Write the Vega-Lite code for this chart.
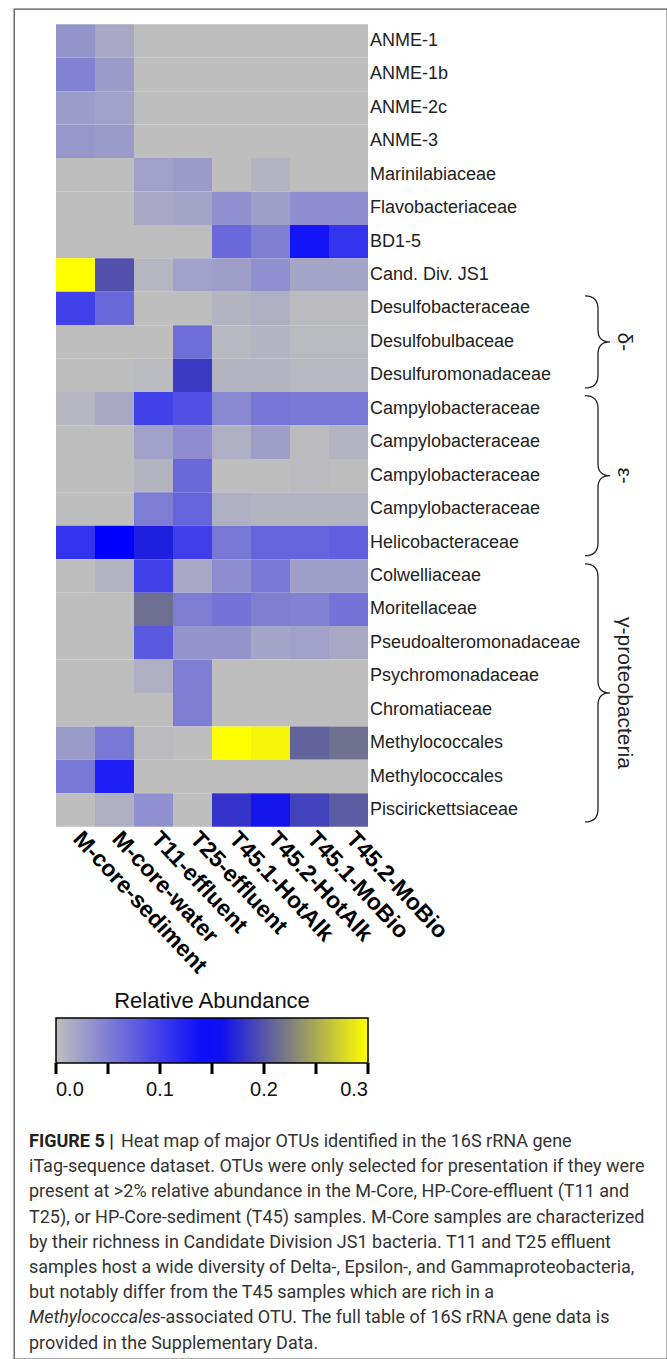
{
  "$schema": "https://vega.github.io/schema/vega-lite/v6.json",
  "width": 653,
  "height": 1350,
  "autosize": {"type": "none"},
  "padding": {"left": 14, "top": 9, "right": 0, "bottom": 0},
  "background": "white",
  "config": {
    "view": {"stroke": "#555555", "strokeWidth": 1.3},
    "legend": {"gradientHorizontalMaxLength": 400}
  },
  "datasets": {
    "cells": [
      {"otu":"ANME-1","label":"ANME-1","sample":"M-core-sediment","v":0.032},
      {"otu":"ANME-1","label":"ANME-1","sample":"M-core-water","v":0.017},
      {"otu":"ANME-1","label":"ANME-1","sample":"T11-effluent","v":0},
      {"otu":"ANME-1","label":"ANME-1","sample":"T25-effluent","v":0},
      {"otu":"ANME-1","label":"ANME-1","sample":"T45.1-HotAlk","v":0},
      {"otu":"ANME-1","label":"ANME-1","sample":"T45.2-HotAlk","v":0},
      {"otu":"ANME-1","label":"ANME-1","sample":"T45.1-MoBio","v":0},
      {"otu":"ANME-1","label":"ANME-1","sample":"T45.2-MoBio","v":0},
      {"otu":"ANME-1b","label":"ANME-1b","sample":"M-core-sediment","v":0.047},
      {"otu":"ANME-1b","label":"ANME-1b","sample":"M-core-water","v":0.028},
      {"otu":"ANME-1b","label":"ANME-1b","sample":"T11-effluent","v":0},
      {"otu":"ANME-1b","label":"ANME-1b","sample":"T25-effluent","v":0},
      {"otu":"ANME-1b","label":"ANME-1b","sample":"T45.1-HotAlk","v":0},
      {"otu":"ANME-1b","label":"ANME-1b","sample":"T45.2-HotAlk","v":0},
      {"otu":"ANME-1b","label":"ANME-1b","sample":"T45.1-MoBio","v":0},
      {"otu":"ANME-1b","label":"ANME-1b","sample":"T45.2-MoBio","v":0},
      {"otu":"ANME-2c","label":"ANME-2c","sample":"M-core-sediment","v":0.027},
      {"otu":"ANME-2c","label":"ANME-2c","sample":"M-core-water","v":0.024},
      {"otu":"ANME-2c","label":"ANME-2c","sample":"T11-effluent","v":0},
      {"otu":"ANME-2c","label":"ANME-2c","sample":"T25-effluent","v":0},
      {"otu":"ANME-2c","label":"ANME-2c","sample":"T45.1-HotAlk","v":0},
      {"otu":"ANME-2c","label":"ANME-2c","sample":"T45.2-HotAlk","v":0},
      {"otu":"ANME-2c","label":"ANME-2c","sample":"T45.1-MoBio","v":0},
      {"otu":"ANME-2c","label":"ANME-2c","sample":"T45.2-MoBio","v":0},
      {"otu":"ANME-3","label":"ANME-3","sample":"M-core-sediment","v":0.031},
      {"otu":"ANME-3","label":"ANME-3","sample":"M-core-water","v":0.028},
      {"otu":"ANME-3","label":"ANME-3","sample":"T11-effluent","v":0},
      {"otu":"ANME-3","label":"ANME-3","sample":"T25-effluent","v":0},
      {"otu":"ANME-3","label":"ANME-3","sample":"T45.1-HotAlk","v":0},
      {"otu":"ANME-3","label":"ANME-3","sample":"T45.2-HotAlk","v":0},
      {"otu":"ANME-3","label":"ANME-3","sample":"T45.1-MoBio","v":0},
      {"otu":"ANME-3","label":"ANME-3","sample":"T45.2-MoBio","v":0},
      {"otu":"Marinilabiaceae","label":"Marinilabiaceae","sample":"M-core-sediment","v":0},
      {"otu":"Marinilabiaceae","label":"Marinilabiaceae","sample":"M-core-water","v":0},
      {"otu":"Marinilabiaceae","label":"Marinilabiaceae","sample":"T11-effluent","v":0.024},
      {"otu":"Marinilabiaceae","label":"Marinilabiaceae","sample":"T25-effluent","v":0.028},
      {"otu":"Marinilabiaceae","label":"Marinilabiaceae","sample":"T45.1-HotAlk","v":0},
      {"otu":"Marinilabiaceae","label":"Marinilabiaceae","sample":"T45.2-HotAlk","v":0.008},
      {"otu":"Marinilabiaceae","label":"Marinilabiaceae","sample":"T45.1-MoBio","v":0},
      {"otu":"Marinilabiaceae","label":"Marinilabiaceae","sample":"T45.2-MoBio","v":0},
      {"otu":"Flavobacteriaceae","label":"Flavobacteriaceae","sample":"M-core-sediment","v":0},
      {"otu":"Flavobacteriaceae","label":"Flavobacteriaceae","sample":"M-core-water","v":0},
      {"otu":"Flavobacteriaceae","label":"Flavobacteriaceae","sample":"T11-effluent","v":0.017},
      {"otu":"Flavobacteriaceae","label":"Flavobacteriaceae","sample":"T25-effluent","v":0.020},
      {"otu":"Flavobacteriaceae","label":"Flavobacteriaceae","sample":"T45.1-HotAlk","v":0.036},
      {"otu":"Flavobacteriaceae","label":"Flavobacteriaceae","sample":"T45.2-HotAlk","v":0.025},
      {"otu":"Flavobacteriaceae","label":"Flavobacteriaceae","sample":"T45.1-MoBio","v":0.039},
      {"otu":"Flavobacteriaceae","label":"Flavobacteriaceae","sample":"T45.2-MoBio","v":0.039},
      {"otu":"BD1-5","label":"BD1-5","sample":"M-core-sediment","v":0},
      {"otu":"BD1-5","label":"BD1-5","sample":"M-core-water","v":0},
      {"otu":"BD1-5","label":"BD1-5","sample":"T11-effluent","v":0},
      {"otu":"BD1-5","label":"BD1-5","sample":"T25-effluent","v":0},
      {"otu":"BD1-5","label":"BD1-5","sample":"T45.1-HotAlk","v":0.067},
      {"otu":"BD1-5","label":"BD1-5","sample":"T45.2-HotAlk","v":0.049},
      {"otu":"BD1-5","label":"BD1-5","sample":"T45.1-MoBio","v":0.134},
      {"otu":"BD1-5","label":"BD1-5","sample":"T45.2-MoBio","v":0.110},
      {"otu":"Cand. Div. JS1","label":"Cand. Div. JS1","sample":"M-core-sediment","v":0.300},
      {"otu":"Cand. Div. JS1","label":"Cand. Div. JS1","sample":"M-core-water","v":0.198},
      {"otu":"Cand. Div. JS1","label":"Cand. Div. JS1","sample":"T11-effluent","v":0.006},
      {"otu":"Cand. Div. JS1","label":"Cand. Div. JS1","sample":"T25-effluent","v":0.024},
      {"otu":"Cand. Div. JS1","label":"Cand. Div. JS1","sample":"T45.1-HotAlk","v":0.025},
      {"otu":"Cand. Div. JS1","label":"Cand. Div. JS1","sample":"T45.2-HotAlk","v":0.036},
      {"otu":"Cand. Div. JS1","label":"Cand. Div. JS1","sample":"T45.1-MoBio","v":0.020},
      {"otu":"Cand. Div. JS1","label":"Cand. Div. JS1","sample":"T45.2-MoBio","v":0.020},
      {"otu":"Desulfobacteraceae","label":"Desulfobacteraceae","sample":"M-core-sediment","v":0.099},
      {"otu":"Desulfobacteraceae","label":"Desulfobacteraceae","sample":"M-core-water","v":0.067},
      {"otu":"Desulfobacteraceae","label":"Desulfobacteraceae","sample":"T11-effluent","v":0},
      {"otu":"Desulfobacteraceae","label":"Desulfobacteraceae","sample":"T25-effluent","v":0},
      {"otu":"Desulfobacteraceae","label":"Desulfobacteraceae","sample":"T45.1-HotAlk","v":0.008},
      {"otu":"Desulfobacteraceae","label":"Desulfobacteraceae","sample":"T45.2-HotAlk","v":0.012},
      {"otu":"Desulfobacteraceae","label":"Desulfobacteraceae","sample":"T45.1-MoBio","v":0.002},
      {"otu":"Desulfobacteraceae","label":"Desulfobacteraceae","sample":"T45.2-MoBio","v":0.002},
      {"otu":"Desulfobulbaceae","label":"Desulfobulbaceae","sample":"M-core-sediment","v":0},
      {"otu":"Desulfobulbaceae","label":"Desulfobulbaceae","sample":"M-core-water","v":0},
      {"otu":"Desulfobulbaceae","label":"Desulfobulbaceae","sample":"T11-effluent","v":0},
      {"otu":"Desulfobulbaceae","label":"Desulfobulbaceae","sample":"T25-effluent","v":0.063},
      {"otu":"Desulfobulbaceae","label":"Desulfobulbaceae","sample":"T45.1-HotAlk","v":0.005},
      {"otu":"Desulfobulbaceae","label":"Desulfobulbaceae","sample":"T45.2-HotAlk","v":0.009},
      {"otu":"Desulfobulbaceae","label":"Desulfobulbaceae","sample":"T45.1-MoBio","v":0.004},
      {"otu":"Desulfobulbaceae","label":"Desulfobulbaceae","sample":"T45.2-MoBio","v":0.004},
      {"otu":"Desulfuromonadaceae","label":"Desulfuromonadaceae","sample":"M-core-sediment","v":0},
      {"otu":"Desulfuromonadaceae","label":"Desulfuromonadaceae","sample":"M-core-water","v":0},
      {"otu":"Desulfuromonadaceae","label":"Desulfuromonadaceae","sample":"T11-effluent","v":0.004},
      {"otu":"Desulfuromonadaceae","label":"Desulfuromonadaceae","sample":"T25-effluent","v":0.184},
      {"otu":"Desulfuromonadaceae","label":"Desulfuromonadaceae","sample":"T45.1-HotAlk","v":0.008},
      {"otu":"Desulfuromonadaceae","label":"Desulfuromonadaceae","sample":"T45.2-HotAlk","v":0.009},
      {"otu":"Desulfuromonadaceae","label":"Desulfuromonadaceae","sample":"T45.1-MoBio","v":0.005},
      {"otu":"Desulfuromonadaceae","label":"Desulfuromonadaceae","sample":"T45.2-MoBio","v":0.005},
      {"otu":"Campylobacteraceae #1","label":"Campylobacteraceae","sample":"M-core-sediment","v":0.006},
      {"otu":"Campylobacteraceae #1","label":"Campylobacteraceae","sample":"M-core-water","v":0.017},
      {"otu":"Campylobacteraceae #1","label":"Campylobacteraceae","sample":"T11-effluent","v":0.099},
      {"otu":"Campylobacteraceae #1","label":"Campylobacteraceae","sample":"T25-effluent","v":0.087},
      {"otu":"Campylobacteraceae #1","label":"Campylobacteraceae","sample":"T45.1-HotAlk","v":0.043},
      {"otu":"Campylobacteraceae #1","label":"Campylobacteraceae","sample":"T45.2-HotAlk","v":0.057},
      {"otu":"Campylobacteraceae #1","label":"Campylobacteraceae","sample":"T45.1-MoBio","v":0.055},
      {"otu":"Campylobacteraceae #1","label":"Campylobacteraceae","sample":"T45.2-MoBio","v":0.055},
      {"otu":"Campylobacteraceae #2","label":"Campylobacteraceae","sample":"M-core-sediment","v":0},
      {"otu":"Campylobacteraceae #2","label":"Campylobacteraceae","sample":"M-core-water","v":0},
      {"otu":"Campylobacteraceae #2","label":"Campylobacteraceae","sample":"T11-effluent","v":0.024},
      {"otu":"Campylobacteraceae #2","label":"Campylobacteraceae","sample":"T25-effluent","v":0.039},
      {"otu":"Campylobacteraceae #2","label":"Campylobacteraceae","sample":"T45.1-HotAlk","v":0.012},
      {"otu":"Campylobacteraceae #2","label":"Campylobacteraceae","sample":"T45.2-HotAlk","v":0.025},
      {"otu":"Campylobacteraceae #2","label":"Campylobacteraceae","sample":"T45.1-MoBio","v":0.003},
      {"otu":"Campylobacteraceae #2","label":"Campylobacteraceae","sample":"T45.2-MoBio","v":0.008},
      {"otu":"Campylobacteraceae #3","label":"Campylobacteraceae","sample":"M-core-sediment","v":0},
      {"otu":"Campylobacteraceae #3","label":"Campylobacteraceae","sample":"M-core-water","v":0},
      {"otu":"Campylobacteraceae #3","label":"Campylobacteraceae","sample":"T11-effluent","v":0.008},
      {"otu":"Campylobacteraceae #3","label":"Campylobacteraceae","sample":"T25-effluent","v":0.067},
      {"otu":"Campylobacteraceae #3","label":"Campylobacteraceae","sample":"T45.1-HotAlk","v":0},
      {"otu":"Campylobacteraceae #3","label":"Campylobacteraceae","sample":"T45.2-HotAlk","v":0},
      {"otu":"Campylobacteraceae #3","label":"Campylobacteraceae","sample":"T45.1-MoBio","v":0.002},
      {"otu":"Campylobacteraceae #3","label":"Campylobacteraceae","sample":"T45.2-MoBio","v":0},
      {"otu":"Campylobacteraceae #4","label":"Campylobacteraceae","sample":"M-core-sediment","v":0},
      {"otu":"Campylobacteraceae #4","label":"Campylobacteraceae","sample":"M-core-water","v":0},
      {"otu":"Campylobacteraceae #4","label":"Campylobacteraceae","sample":"T11-effluent","v":0.051},
      {"otu":"Campylobacteraceae #4","label":"Campylobacteraceae","sample":"T25-effluent","v":0.071},
      {"otu":"Campylobacteraceae #4","label":"Campylobacteraceae","sample":"T45.1-HotAlk","v":0.012},
      {"otu":"Campylobacteraceae #4","label":"Campylobacteraceae","sample":"T45.2-HotAlk","v":0.009},
      {"otu":"Campylobacteraceae #4","label":"Campylobacteraceae","sample":"T45.1-MoBio","v":0.009},
      {"otu":"Campylobacteraceae #4","label":"Campylobacteraceae","sample":"T45.2-MoBio","v":0.009},
      {"otu":"Helicobacteraceae","label":"Helicobacteraceae","sample":"M-core-sediment","v":0.110},
      {"otu":"Helicobacteraceae","label":"Helicobacteraceae","sample":"M-core-water","v":0.150},
      {"otu":"Helicobacteraceae","label":"Helicobacteraceae","sample":"T11-effluent","v":0.168},
      {"otu":"Helicobacteraceae","label":"Helicobacteraceae","sample":"T25-effluent","v":0.102},
      {"otu":"Helicobacteraceae","label":"Helicobacteraceae","sample":"T45.1-HotAlk","v":0.055},
      {"otu":"Helicobacteraceae","label":"Helicobacteraceae","sample":"T45.2-HotAlk","v":0.071},
      {"otu":"Helicobacteraceae","label":"Helicobacteraceae","sample":"T45.1-MoBio","v":0.071},
      {"otu":"Helicobacteraceae","label":"Helicobacteraceae","sample":"T45.2-MoBio","v":0.075},
      {"otu":"Colwelliaceae","label":"Colwelliaceae","sample":"M-core-sediment","v":0},
      {"otu":"Colwelliaceae","label":"Colwelliaceae","sample":"M-core-water","v":0.008},
      {"otu":"Colwelliaceae","label":"Colwelliaceae","sample":"T11-effluent","v":0.099},
      {"otu":"Colwelliaceae","label":"Colwelliaceae","sample":"T25-effluent","v":0.017},
      {"otu":"Colwelliaceae","label":"Colwelliaceae","sample":"T45.1-HotAlk","v":0.039},
      {"otu":"Colwelliaceae","label":"Colwelliaceae","sample":"T45.2-HotAlk","v":0.055},
      {"otu":"Colwelliaceae","label":"Colwelliaceae","sample":"T45.1-MoBio","v":0.025},
      {"otu":"Colwelliaceae","label":"Colwelliaceae","sample":"T45.2-MoBio","v":0.025},
      {"otu":"Moritellaceae","label":"Moritellaceae","sample":"M-core-sediment","v":0},
      {"otu":"Moritellaceae","label":"Moritellaceae","sample":"M-core-water","v":0},
      {"otu":"Moritellaceae","label":"Moritellaceae","sample":"T11-effluent","v":0.215},
      {"otu":"Moritellaceae","label":"Moritellaceae","sample":"T25-effluent","v":0.051},
      {"otu":"Moritellaceae","label":"Moritellaceae","sample":"T45.1-HotAlk","v":0.059},
      {"otu":"Moritellaceae","label":"Moritellaceae","sample":"T45.2-HotAlk","v":0.049},
      {"otu":"Moritellaceae","label":"Moritellaceae","sample":"T45.1-MoBio","v":0.047},
      {"otu":"Moritellaceae","label":"Moritellaceae","sample":"T45.2-MoBio","v":0.059},
      {"otu":"Pseudoalteromonadaceae","label":"Pseudoalteromonadaceae","sample":"M-core-sediment","v":0},
      {"otu":"Pseudoalteromonadaceae","label":"Pseudoalteromonadaceae","sample":"M-core-water","v":0},
      {"otu":"Pseudoalteromonadaceae","label":"Pseudoalteromonadaceae","sample":"T11-effluent","v":0.079},
      {"otu":"Pseudoalteromonadaceae","label":"Pseudoalteromonadaceae","sample":"T25-effluent","v":0.032},
      {"otu":"Pseudoalteromonadaceae","label":"Pseudoalteromonadaceae","sample":"T45.1-HotAlk","v":0.032},
      {"otu":"Pseudoalteromonadaceae","label":"Pseudoalteromonadaceae","sample":"T45.2-HotAlk","v":0.020},
      {"otu":"Pseudoalteromonadaceae","label":"Pseudoalteromonadaceae","sample":"T45.1-MoBio","v":0.024},
      {"otu":"Pseudoalteromonadaceae","label":"Pseudoalteromonadaceae","sample":"T45.2-MoBio","v":0.017},
      {"otu":"Psychromonadaceae","label":"Psychromonadaceae","sample":"M-core-sediment","v":0},
      {"otu":"Psychromonadaceae","label":"Psychromonadaceae","sample":"M-core-water","v":0},
      {"otu":"Psychromonadaceae","label":"Psychromonadaceae","sample":"T11-effluent","v":0.012},
      {"otu":"Psychromonadaceae","label":"Psychromonadaceae","sample":"T25-effluent","v":0.051},
      {"otu":"Psychromonadaceae","label":"Psychromonadaceae","sample":"T45.1-HotAlk","v":0},
      {"otu":"Psychromonadaceae","label":"Psychromonadaceae","sample":"T45.2-HotAlk","v":0},
      {"otu":"Psychromonadaceae","label":"Psychromonadaceae","sample":"T45.1-MoBio","v":0},
      {"otu":"Psychromonadaceae","label":"Psychromonadaceae","sample":"T45.2-MoBio","v":0},
      {"otu":"Chromatiaceae","label":"Chromatiaceae","sample":"M-core-sediment","v":0},
      {"otu":"Chromatiaceae","label":"Chromatiaceae","sample":"M-core-water","v":0},
      {"otu":"Chromatiaceae","label":"Chromatiaceae","sample":"T11-effluent","v":0},
      {"otu":"Chromatiaceae","label":"Chromatiaceae","sample":"T25-effluent","v":0.051},
      {"otu":"Chromatiaceae","label":"Chromatiaceae","sample":"T45.1-HotAlk","v":0},
      {"otu":"Chromatiaceae","label":"Chromatiaceae","sample":"T45.2-HotAlk","v":0},
      {"otu":"Chromatiaceae","label":"Chromatiaceae","sample":"T45.1-MoBio","v":0},
      {"otu":"Chromatiaceae","label":"Chromatiaceae","sample":"T45.2-MoBio","v":0},
      {"otu":"Methylococcales #1","label":"Methylococcales","sample":"M-core-sediment","v":0.028},
      {"otu":"Methylococcales #1","label":"Methylococcales","sample":"M-core-water","v":0.055},
      {"otu":"Methylococcales #1","label":"Methylococcales","sample":"T11-effluent","v":0.003},
      {"otu":"Methylococcales #1","label":"Methylococcales","sample":"T25-effluent","v":0},
      {"otu":"Methylococcales #1","label":"Methylococcales","sample":"T45.1-HotAlk","v":0.300},
      {"otu":"Methylococcales #1","label":"Methylococcales","sample":"T45.2-HotAlk","v":0.294},
      {"otu":"Methylococcales #1","label":"Methylococcales","sample":"T45.1-MoBio","v":0.208},
      {"otu":"Methylococcales #1","label":"Methylococcales","sample":"T45.2-MoBio","v":0.216},
      {"otu":"Methylococcales #2","label":"Methylococcales","sample":"M-core-sediment","v":0.055},
      {"otu":"Methylococcales #2","label":"Methylococcales","sample":"M-core-water","v":0.126},
      {"otu":"Methylococcales #2","label":"Methylococcales","sample":"T11-effluent","v":0},
      {"otu":"Methylococcales #2","label":"Methylococcales","sample":"T25-effluent","v":0},
      {"otu":"Methylococcales #2","label":"Methylococcales","sample":"T45.1-HotAlk","v":0},
      {"otu":"Methylococcales #2","label":"Methylococcales","sample":"T45.2-HotAlk","v":0},
      {"otu":"Methylococcales #2","label":"Methylococcales","sample":"T45.1-MoBio","v":0},
      {"otu":"Methylococcales #2","label":"Methylococcales","sample":"T45.2-MoBio","v":0},
      {"otu":"Piscirickettsiaceae","label":"Piscirickettsiaceae","sample":"M-core-sediment","v":0},
      {"otu":"Piscirickettsiaceae","label":"Piscirickettsiaceae","sample":"M-core-water","v":0.012},
      {"otu":"Piscirickettsiaceae","label":"Piscirickettsiaceae","sample":"T11-effluent","v":0.036},
      {"otu":"Piscirickettsiaceae","label":"Piscirickettsiaceae","sample":"T25-effluent","v":0},
      {"otu":"Piscirickettsiaceae","label":"Piscirickettsiaceae","sample":"T45.1-HotAlk","v":0.180},
      {"otu":"Piscirickettsiaceae","label":"Piscirickettsiaceae","sample":"T45.2-HotAlk","v":0.162},
      {"otu":"Piscirickettsiaceae","label":"Piscirickettsiaceae","sample":"T45.1-MoBio","v":0.189},
      {"otu":"Piscirickettsiaceae","label":"Piscirickettsiaceae","sample":"T45.2-MoBio","v":0.204}
    ],
    "legendTicks": [
      {"value": 0}, {"value": 0.05}, {"value": 0.1}, {"value": 0.15},
      {"value": 0.2}, {"value": 0.25}, {"value": 0.3}
    ],
    "groups": [
      {"group": "δ-", "mid": 9.5},
      {"group": "ε-", "mid": 13.5},
      {"group": "γ-proteobacteria", "mid": 20}
    ],
    "caption": [
      {"line": 1, "kind": "figure-label", "text": "FIGURE 5 |"},
      {"line": 1, "kind": "text", "text": "Heat map of major OTUs identified in the 16S rRNA gene"},
      {"line": 2, "kind": "text", "text": "iTag-sequence dataset. OTUs were only selected for presentation if they were"},
      {"line": 3, "kind": "text", "text": "present at >2% relative abundance in the M-Core, HP-Core-effluent (T11 and"},
      {"line": 4, "kind": "text", "text": "T25), or HP-Core-sediment (T45) samples. M-Core samples are characterized"},
      {"line": 5, "kind": "text", "text": "by their richness in Candidate Division JS1 bacteria. T11 and T25 effluent"},
      {"line": 6, "kind": "text", "text": "samples host a wide diversity of Delta-, Epsilon-, and Gammaproteobacteria,"},
      {"line": 7, "kind": "text", "text": "but notably differ from the T45 samples which are rich in a"},
      {"line": 8, "kind": "taxon", "text": "Methylococcales"},
      {"line": 8, "kind": "text", "text": "-associated OTU. The full table of 16S rRNA gene data is"},
      {"line": 9, "kind": "text", "text": "provided in the Supplementary Data."}
    ]
  },
  "resolve": {"scale": {"x": "independent", "y": "independent"}},
  "layer": [
    {
      "data": {"name": "cells"},
      "encoding": {
        "x": {"field": "sample", "type": "nominal", "sort": null, "axis": null,
              "scale": {"domain": ["M-core-sediment","M-core-water","T11-effluent","T25-effluent","T45.1-HotAlk","T45.2-HotAlk","T45.1-MoBio","T45.2-MoBio"],
                        "range": [42, 354], "paddingInner": 0, "paddingOuter": 0}},
        "y": {"field": "otu", "type": "nominal", "sort": null, "axis": null,
              "scale": {"domain": ["ANME-1","ANME-1b","ANME-2c","ANME-3","Marinilabiaceae","Flavobacteriaceae","BD1-5","Cand. Div. JS1","Desulfobacteraceae","Desulfobulbaceae","Desulfuromonadaceae","Campylobacteraceae #1","Campylobacteraceae #2","Campylobacteraceae #3","Campylobacteraceae #4","Helicobacteraceae","Colwelliaceae","Moritellaceae","Pseudoalteromonadaceae","Psychromonadaceae","Chromatiaceae","Methylococcales #1","Methylococcales #2","Piscirickettsiaceae"],
                        "range": [15.3, 817.7], "paddingInner": 0, "paddingOuter": 0}}
      },
      "layer": [
        {
          "mark": {"type": "rect", "strokeWidth": 0},
          "encoding": {
            "color": {
              "field": "v", "type": "quantitative",
              "scale": {"domain": [0, 0.15, 0.3], "range": ["#bebebe", "#0000ff", "#ffff00"], "interpolate": "rgb"},
              "legend": {
                "title": "Relative Abundance", "orient": "none", "legendX": 42, "legendY": 982,
                "direction": "horizontal", "gradientLength": 312, "gradientThickness": 45,
                "gradientStrokeColor": "#000000", "gradientStrokeWidth": 1.5,
                "values": [0, 0.1, 0.2, 0.3], "format": ".1f",
                "labelFont": "Liberation Sans", "labelFontSize": 20, "labelColor": "#111111",
                "labelOffset": 17, "labelAlign": "center", "labelOverlap": false,
                "titleFont": "Liberation Sans", "titleFontSize": 22, "titleFontWeight": "normal",
                "titleColor": "#111111", "titleAnchor": "middle", "titlePadding": 5, "titleLimit": 400,
                "padding": 0
              }
            }
          }
        },
        {
          "transform": [{"filter": "datum.sample === 'T45.2-MoBio'"}],
          "mark": {"type": "text", "align": "left", "baseline": "middle", "dx": 21.5,
                   "font": "Liberation Sans", "fontSize": 18, "fill": "#222222"},
          "encoding": {"text": {"field": "label"}}
        },
        {
          "transform": [{"filter": "datum.otu === 'Piscirickettsiaceae'"}],
          "mark": {"type": "text", "align": "left", "baseline": "alphabetic", "angle": 47,
                   "dx": 19.5, "dy": 23, "font": "Liberation Sans", "fontSize": 23,
                   "fontWeight": "bold", "fill": "#000000"},
          "encoding": {"text": {"field": "sample"}}
        }
      ]
    },
    {
      "data": {"name": "legendTicks"},
      "mark": {"type": "rule", "strokeWidth": 3, "color": "#000000"},
      "encoding": {
        "x": {"field": "value", "type": "quantitative", "axis": null,
              "scale": {"domain": [0, 0.3], "range": [42, 354], "nice": false, "zero": false}},
        "y": {"datum": 0, "type": "quantitative", "axis": null,
              "scale": {"domain": [0, 1], "range": [1054, 1065], "nice": false, "zero": false}},
        "y2": {"datum": 1}
      }
    },
    {
      "data": {"name": "groups"},
      "encoding": {
        "y": {"field": "mid", "type": "quantitative", "axis": null,
              "scale": {"domain": [0, 24], "range": [15.3, 817.7], "nice": false, "zero": false}}
      },
      "layer": [
        {
          "transform": [{"filter": "datum.group === 'δ-'"}],
          "mark": {"type": "point", "shape": "M -0.283 -1 Q 0 -1 0 -0.717 L 0 -0.261 Q 0 0 0.261 0 Q 0 0 0 0.261 L 0 0.717 Q 0 1 -0.283 1",
                   "size": 8464, "filled": false, "stroke": "#222222", "strokeWidth": 1.3, "opacity": 1},
          "encoding": {"x": {"datum": "brace", "type": "nominal", "axis": null,
                             "scale": {"type": "point", "domain": ["brace", "label"], "range": [584, 610], "padding": 0}}}
        },
        {
          "transform": [{"filter": "datum.group === 'ε-'"}],
          "mark": {"type": "point", "shape": "M -0.1625 -1 Q 0 -1 0 -0.8375 L 0 -0.15 Q 0 0 0.15 0 Q 0 0 0 0.15 L 0 0.8375 Q 0 1 -0.1625 1",
                   "size": 25600, "filled": false, "stroke": "#222222", "strokeWidth": 1.3, "opacity": 1},
          "encoding": {"x": {"datum": "brace", "type": "nominal", "axis": null}}
        },
        {
          "transform": [{"filter": "datum.group === 'γ-proteobacteria'"}],
          "mark": {"type": "point", "shape": "M -0.1008 -1 Q 0 -1 0 -0.8992 L 0 -0.093 Q 0 0 0.093 0 Q 0 0 0 0.093 L 0 0.8992 Q 0 1 -0.1008 1",
                   "size": 66564, "filled": false, "stroke": "#222222", "strokeWidth": 1.3, "opacity": 1},
          "encoding": {"x": {"datum": "brace", "type": "nominal", "axis": null}}
        },
        {
          "mark": {"type": "text", "angle": 90, "align": "center", "baseline": "middle",
                   "font": "Liberation Sans", "fontSize": 21, "fill": "#222222"},
          "encoding": {"x": {"datum": "label", "type": "nominal", "axis": null},
                       "text": {"field": "group"}}
        }
      ]
    },
    {
      "data": {"name": "caption"},
      "encoding": {
        "x": {"datum": 0, "type": "quantitative", "axis": null,
              "scale": {"domain": [0, 1], "range": [15, 653], "nice": false, "zero": false}},
        "y": {"field": "line", "type": "quantitative", "axis": null,
              "scale": {"domain": [1, 9], "range": [1138, 1339.6], "nice": false, "zero": false}}
      },
      "layer": [
        {
          "transform": [{"filter": "datum.kind === 'text' && datum.line !== 1 && datum.line !== 8"}],
          "mark": {"type": "text", "align": "left", "baseline": "alphabetic",
                   "font": "Roboto", "fontSize": 18, "fill": "#333333"},
          "encoding": {"text": {"field": "text"}}
        },
        {
          "transform": [{"filter": "datum.kind === 'text' && datum.line === 1"}],
          "mark": {"type": "text", "align": "left", "baseline": "alphabetic", "dx": 92,
                   "font": "Roboto", "fontSize": 18, "fill": "#333333"},
          "encoding": {"text": {"field": "text"}}
        },
        {
          "transform": [{"filter": "datum.kind === 'text' && datum.line === 8"}],
          "mark": {"type": "text", "align": "left", "baseline": "alphabetic", "dx": 131.5,
                   "font": "Roboto", "fontSize": 18, "fill": "#333333"},
          "encoding": {"text": {"field": "text"}}
        },
        {
          "transform": [{"filter": "datum.kind === 'figure-label'"}],
          "mark": {"type": "text", "align": "left", "baseline": "alphabetic",
                   "font": "Roboto", "fontSize": 18, "fontWeight": "bold", "fill": "#222222"},
          "encoding": {"text": {"field": "text"}}
        },
        {
          "transform": [{"filter": "datum.kind === 'taxon'"}],
          "mark": {"type": "text", "align": "left", "baseline": "alphabetic",
                   "font": "Roboto", "fontSize": 18, "fontStyle": "italic", "fill": "#333333"},
          "encoding": {"text": {"field": "text"}}
        }
      ]
    }
  ]
}
